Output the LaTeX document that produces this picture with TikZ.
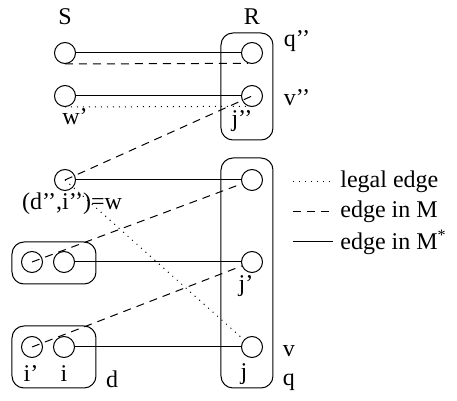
\documentclass[tikz,border=0pt]{standalone}
\usepackage{fontspec}
\setmainfont{Liberation Serif}
\usetikzlibrary{positioning}

\begin{document}
\begin{tikzpicture}[x=0.5pt,y=-0.5pt,font=\fontsize{12}{14}\selectfont,
   vtx/.style={circle,draw,minimum size=10.5pt,inner sep=0pt,line width=0.5pt},
   grp/.style={draw,rounded corners=6pt,line width=0.5pt},
   lbl/.style={anchor=base,inner sep=0pt},
   msol/.style={line width=0.5pt},
   mdash/.style={dash pattern=on 4pt off 3pt,line width=0.5pt},
   ldot/.style={dash pattern=on 0.5pt off 2.5pt,line width=0.5pt}]

  \useasboundingbox (0,0) rectangle (457,401);

  \draw[grp] (221,33) rectangle (273,140);
  \draw[grp] (221,158) rectangle (273,388);
  \draw[grp] (12,242) rectangle (96,284);
  \draw[grp] (12,326) rectangle (96,388);

  \node[vtx] (s1) at (65,53) {};
  \node[vtx] (s2) at (65,96) {};
  \node[vtx] (dw) at (65,180) {};
  \node[vtx] (a1) at (32,262) {};
  \node[vtx] (a2) at (64,262) {};
  \node[vtx] (ip) at (32,347) {};
  \node[vtx] (ii) at (64,347) {};
  \node[vtx] (q2) at (252,53) {};
  \node[vtx] (v2) at (252,96) {};
  \node[vtx] (r1) at (252,180) {};
  \node[vtx] (jp) at (252,262) {};
  \node[vtx] (jj) at (252,347) {};

  \node[lbl] (tS) at (65,25) {S};
  \node[lbl] (tR) at (252,25) {R};
  \node[lbl] (tq2) at (297,47) {q’’};
  \node[lbl] (tv2) at (297,106) {v’’};
  \node[lbl] (tw) at (75,125) {w’};
  \node[lbl] (tj2) at (242,127) {j’’};
  \node[lbl] (tdw) at (72,210) {(d’’,i’’)=w};
  \node[lbl] (tjp) at (246,292) {j’};
  \node[lbl] (tip) at (31,382) {i’};
  \node[lbl] (tii) at (64,382) {i};
  \node[lbl] (td) at (112,388) {d};
  \node[lbl] (tj) at (244,380) {j};
  \node[lbl] (tv) at (289,357) {v};
  \node[lbl] (tq) at (289,386) {q};

  \draw[msol] (s1) -- (q2);
  \draw[mdash] (s1.-90) -- (q2.-110);
  \draw[msol] (s2) -- (v2);
  \draw[ldot] (s2.-90) -- (v2.-110);
  \draw[mdash] (dw.center) -- (v2.center);
  \draw[msol] (dw) -- (r1);
  \draw[ldot] (dw.center) -- (jj);
  \draw[mdash] (a1.center) -- (r1);
  \draw[msol] (a2) -- (jp);
  \draw[mdash] (ip.center) -- (jp);
  \draw[msol] (ii) -- (jj);

  \coordinate (k1a) at (293,182); \coordinate (k1b) at (333,182);
  \coordinate (k2a) at (293,212); \coordinate (k2b) at (333,212);
  \coordinate (k3a) at (293,242); \coordinate (k3b) at (333,242);
  \draw[ldot] (k1a) -- (k1b);
  \draw[mdash] (k2a) -- (k2b);
  \draw[msol] (k3a) -- (k3b);
  \node[anchor=west,inner sep=0pt] (k1) at (340,182) {legal edge};
  \node[anchor=west,inner sep=0pt] (k2) at (340,212) {edge in M};
  \node[anchor=west,inner sep=0pt] (k3) at (340,242) {edge in M\textsuperscript{*}};
\end{tikzpicture}
\end{document}
